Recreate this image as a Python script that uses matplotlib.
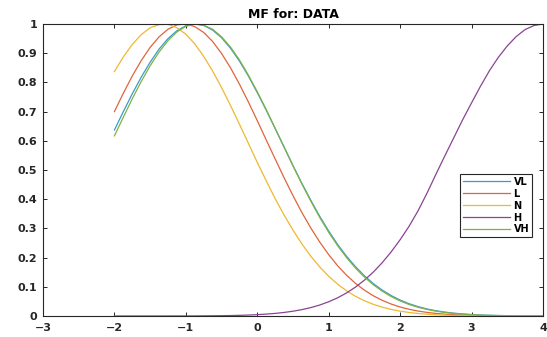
import matplotlib
matplotlib.use('Agg')
import matplotlib.pyplot as plt

x_vals = [-2, -1.875, -1.75, -1.625, -1.5, -1.375, -1.25, -1.125, -1, -0.875, -0.75, -0.625,
          -0.5, -0.375, -0.25, -0.125, 0, 0.125, 0.25, 0.375, 0.5, 0.625, 0.75, 0.875,
          1, 1.125, 1.25, 1.375, 1.5, 1.625, 1.75, 1.875, 2, 2.125, 2.25, 2.375,
          2.5, 2.625, 2.75, 2.875, 3, 3.125, 3.25, 3.375, 3.5, 3.625, 3.75, 3.875, 4]

vl = [0.637, 0.700, 0.761, 0.818, 0.869, 0.914, 0.950, 0.977, 0.994, 1.000, 0.995, 0.979,
      0.953, 0.917, 0.873, 0.822, 0.765, 0.705, 0.642, 0.579, 0.515, 0.454, 0.396, 0.341,
      0.291, 0.245, 0.2045, 0.169, 0.1376, 0.111, 0.0886, 0.0699, 0.0546, 0.0421, 0.0322, 0.0243,
      0.0181, 0.0134, 0.0098, 0.0071, 0.0050, 0.0035, 0.0025, 0.0017, 0.0012, 0.0008, 0.0005, 0.0003, 0.0002]
l = [0.700, 0.763, 0.822, 0.8745, 0.920, 0.956, 0.982, 0.997, 1.000, 0.991, 0.971, 0.940,
     0.899, 0.850, 0.794, 0.733, 0.669, 0.603, 0.538, 0.4735, 0.412, 0.354, 0.301, 0.253,
     0.210, 0.172, 0.1396, 0.1118, 0.0885, 0.0692, 0.0535, 0.0409, 0.0309, 0.0230, 0.0170, 0.0124,
     0.0089, 0.0063, 0.0045, 0.0031, 0.0021, 0.0015, 0.0010, 0.0007, 0.0004, 0.0003, 0.0002, 0.0001, 0.0001]
n = [0.837, 0.8875, 0.930, 0.9636, 0.987, 0.998, 0.999, 0.987, 0.965, 0.932, 0.889, 0.839,
     0.782, 0.721, 0.657, 0.5915, 0.526, 0.463, 0.402, 0.3458, 0.294, 0.2466, 0.2045, 0.1677,
     0.136, 0.1089, 0.0862, 0.0675, 0.0522, 0.0399, 0.0301, 0.0225, 0.0166, 0.0121, 0.0087, 0.0062,
     0.0044, 0.0031, 0.0021, 0.0015, 0.0010, 0.0007, 0.0004, 0.0003, 0.0002, 0.0001, 0.0001, 0.0, 0.0]
h = [0.0, 0.0, 0.0, 0.0, 0.0, 0.0, 0.0001, 0.0001, 0.0002, 0.0003, 0.0005, 0.0008,
     0.0011, 0.0016, 0.0023, 0.0033, 0.0047, 0.0065, 0.0089, 0.0122, 0.0164, 0.0219, 0.0289, 0.0377,
     0.0488, 0.0624, 0.079, 0.099, 0.1228, 0.1506, 0.1829, 0.2198, 0.2613, 0.3073, 0.36, 0.42,
     0.485, 0.548, 0.61, 0.672, 0.73, 0.787, 0.84, 0.886, 0.925, 0.957, 0.981, 0.995, 1.0]
vh = [0.617, 0.681, 0.744, 0.803, 0.857, 0.904, 0.943, 0.973, 0.992, 1.000, 0.996, 0.982,
      0.956, 0.921, 0.877, 0.825, 0.768, 0.707, 0.643, 0.578, 0.514, 0.452, 0.393, 0.337,
      0.2865, 0.2406, 0.1998, 0.164, 0.1331, 0.1068, 0.0847, 0.0664, 0.0515, 0.0395, 0.0299, 0.0224,
      0.0166, 0.0121, 0.0088, 0.0063, 0.0045, 0.0031, 0.0022, 0.0015, 0.0010, 0.0007, 0.0004, 0.0003, 0.0002]

labels = ['VL', 'L', 'N', 'H', 'VH']
colors = ['#3a9ad0', '#e0643c', '#edb931', '#8a4394', '#7fb244']

fig = plt.figure(figsize=(5.47, 3.37), dpi=100)
ax = fig.add_axes([0.0786, 0.0623, 0.9141, 0.8665])

for ys, lab, c in zip([vl, l, n, h, vh], labels, colors):
    ax.plot(x_vals, ys, color=c, lw=0.9, label=lab)

ax.set_xlim(-3, 4)
ax.set_ylim(0, 1)
ax.set_xticks(range(-3, 5))
ax.set_yticks([i / 10 for i in range(11)])
ax.set_yticklabels(['0'] + ['0.%d' % i for i in range(1, 10)] + ['1'])
ax.tick_params(direction='in', top=True, right=True, length=3, width=0.7,
               labelsize=8, colors='#262626')
ax.tick_params(axis='x', pad=5)
ax.tick_params(axis='y', pad=4)
for t in ax.get_xticklabels() + ax.get_yticklabels():
    t.set_fontweight('bold')
for sp in ax.spines.values():
    sp.set_color('#262626')
    sp.set_linewidth(0.8)

ax.set_title('MF for: DATA', fontsize=9, fontweight='bold', pad=4)

leg = ax.legend(loc='upper right', bbox_to_anchor=(0.978, 0.487),
                prop={'weight': 'bold', 'size': 7}, handlelength=4.8, labelspacing=0.2,
                borderpad=0.3, handletextpad=0.4, borderaxespad=0, fancybox=False,
                framealpha=1)
leg.get_frame().set_edgecolor('#262626')
leg.get_frame().set_linewidth(0.8)

fig.savefig('out.png', dpi=100)
